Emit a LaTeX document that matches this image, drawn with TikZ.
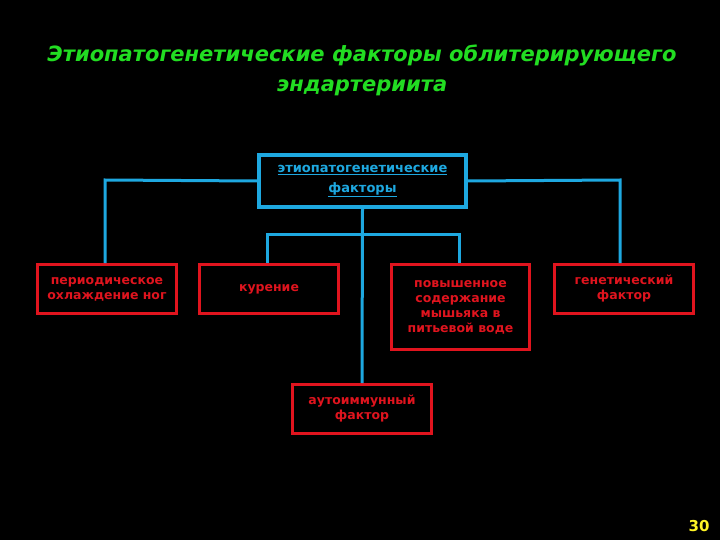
\documentclass[tikz,border=0pt]{standalone}
\usepackage{fontspec}
\setmainfont{DejaVu Sans}
\definecolor{cy}{HTML}{1EA8E0}
\definecolor{rd}{HTML}{E0141E}
\definecolor{gr}{HTML}{22DD22}
\begin{document}
\begin{tikzpicture}[x=1pt,y=-1pt,
  rbox/.style={draw=rd,line width=3pt,text=rd,font=\bfseries\fontsize{12.5}{15}\selectfont,align=center,anchor=north west,inner sep=2pt},
  cline/.style={draw=cy,line width=3pt}]
\fill[black] (0,0) rectangle (720,540);
\useasboundingbox (0,0) rectangle (720,540);
\node[text=gr,font=\bfseries\itshape\fontsize{21}{30}\selectfont,align=center] (title) at (362,70) {Этиопатогенетические факторы облитерирующего\\эндартериита};
\node[draw=cy,line width=4pt,minimum width=207pt,minimum height=52pt,anchor=north west,text=cy,font=\bfseries\fontsize{13}{20}\selectfont,align=center] (top) at (257,153) {\underline{этиопатогенетические}\\\underline{факторы}};
\node[rbox,minimum width=139pt,minimum height=49pt] (a) at (36,263) {периодическое\\охлаждение ног};
\node[rbox,minimum width=139pt,minimum height=49pt] (b) at (198,263) {курение};
\node[rbox,minimum width=138pt,minimum height=85pt] (c) at (390,263) {повышенное\\содержание\\мышьяка в\\питьевой воде};
\node[rbox,minimum width=139pt,minimum height=49pt,anchor=north west] (d) at (553,263) {генетический\\фактор};
\node[rbox,minimum width=139pt,minimum height=49pt] (e) at (291,383) {аутоиммунный\\фактор};
\coordinate (L) at (105,180); \coordinate (R) at (620,180);
\draw[cline] (top.west) -- (L) -- (a.north -| L);
\draw[cline] (top.east) -- (R) -- (d.north -| R);
\draw[cline] (top.south) -- (e.north);
\draw[cline] (267,263) -- (267,234) -- (459,234) -- (459,263);
\node[text=yellow!85!white,font=\bfseries\fontsize{15}{16}\selectfont] (pn) at (699,526) {30};
\end{tikzpicture}
\end{document}
